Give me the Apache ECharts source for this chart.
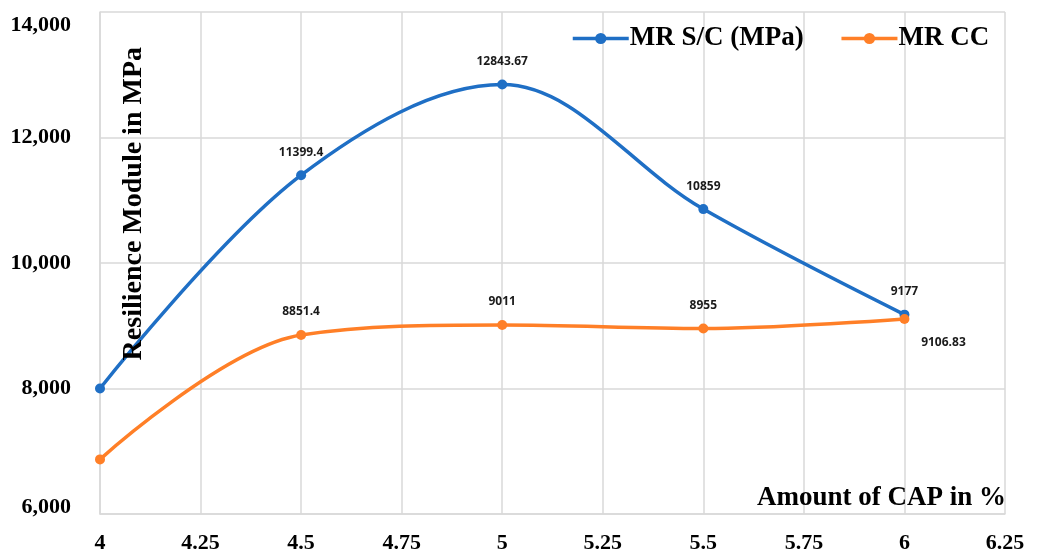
<!DOCTYPE html>
<html>
<head>
<meta charset="utf-8">
<script src="https://cdn.jsdelivr.net/npm/echarts@6/dist/echarts.min.js"></script>
<style>html,body{margin:0;padding:0;background:#fff}#c{width:1040px;height:554px}</style>
</head>
<body>
<div id="c"></div>
<script>
const xValues = [4, 4.5, 5, 5.5, 6];
const mrSC = [8000, 11399.4, 12843.67, 10859, 9177];
const mrCC = [6870, 8851.4, 9011, 8955, 9106.83];
const seriesNames = ['MR S/C (MPa)', 'MR CC'];
const yAxisTitle = 'Resilience Module in MPa';
const xAxisTitle = 'Amount of CAP in %';

const serif = '"Liberation Serif","Times New Roman",serif';
const labelFont = { fontFamily: '"Open Sans","Liberation Sans",sans-serif', fontWeight: 'bold', fontSize: 12, color: '#1a1a1a' };

function build(vals, special) {
  return vals.map((v, i) => {
    const item = { value: [xValues[i], v] };
    if (i === 0) item.label = { show: false };
    if (special && special[i]) item.label = special[i];
    return item;
  });
}

const chart = echarts.init(document.getElementById('c'));
chart.setOption({
  animation: false,
  grid: { left: 100, right: 35, top: 12, bottom: 40 },
  legend: {
    left: 566, top: 20,
    itemWidth: 56, itemHeight: 14, itemGap: 36,
    lineStyle: { width: 3.5 },
    textStyle: { fontFamily: serif, fontWeight: 'bold', fontSize: 27, color: '#000', padding: [0, 0, 0, -4] },
    data: seriesNames
  },
  xAxis: {
    type: 'value', min: 4, max: 6.25, interval: 0.25,
    axisLine: { show: true, lineStyle: { color: '#d9d9d9', width: 1.5 } },
    axisTick: { show: false },
    splitLine: { show: true, lineStyle: { color: '#d9d9d9', width: 1.5 } },
    axisLabel: { margin: 18, fontFamily: serif, fontWeight: 'bold', fontSize: 22, color: '#000' }
  },
  yAxis: {
    type: 'value', min: 6000, max: 14000, interval: 2000,
    axisLine: { show: true, lineStyle: { color: '#d9d9d9', width: 1.5 } },
    axisTick: { show: false },
    splitLine: { show: true, lineStyle: { color: '#d9d9d9', width: 1.5 } },
    axisLabel: {
      margin: 29, fontFamily: serif, fontWeight: 'bold', fontSize: 22, color: '#000',
      formatter: v => {
        const s = v.toLocaleString('en-US');
        if (v === 14000) return '{hi|' + s + '}';
        if (v === 6000) return '{lo|' + s + '}';
        return s;
      },
      rich: {
        hi: { fontFamily: serif, fontWeight: 'bold', fontSize: 22, color: '#000', padding: [26, 0, 0, 0] },
        lo: { fontFamily: serif, fontWeight: 'bold', fontSize: 22, color: '#000', padding: [0, 0, 14, 0] }
      }
    }
  },
  graphic: [
    { type: 'text', left: 120, top: 47, rotation: Math.PI / 2,
      style: { text: yAxisTitle, font: 'bold 28px ' + serif, fill: '#000' }, z: 100 },
    { type: 'text', right: 34, top: 485,
      style: { text: xAxisTitle, font: 'bold 27px ' + serif, fill: '#000' }, z: 100 }
  ],
  series: [
    {
      name: seriesNames[0], type: 'line', smooth: 0.35,
      data: build(mrSC),
      symbol: 'circle', symbolSize: 10,
      itemStyle: { color: '#1f6fc5' },
      lineStyle: { width: 3.5, color: '#1f6fc5' },
      label: Object.assign({ show: true, position: 'top', distance: 12, formatter: p => String(p.value[1]) }, labelFont),
      z: 3
    },
    {
      name: seriesNames[1], type: 'line', smooth: 0.35,
      data: build(mrCC, { 4: Object.assign({ show: true, position: 'inside', offset: [39, 24], formatter: p => String(p.value[1]) }, labelFont) }),
      symbol: 'circle', symbolSize: 10,
      itemStyle: { color: '#ff7f27' },
      lineStyle: { width: 3.5, color: '#ff7f27' },
      label: Object.assign({ show: true, position: 'top', distance: 12, formatter: p => String(p.value[1]) }, labelFont),
      z: 4
    }
  ]
});
</script>
</body>
</html>
